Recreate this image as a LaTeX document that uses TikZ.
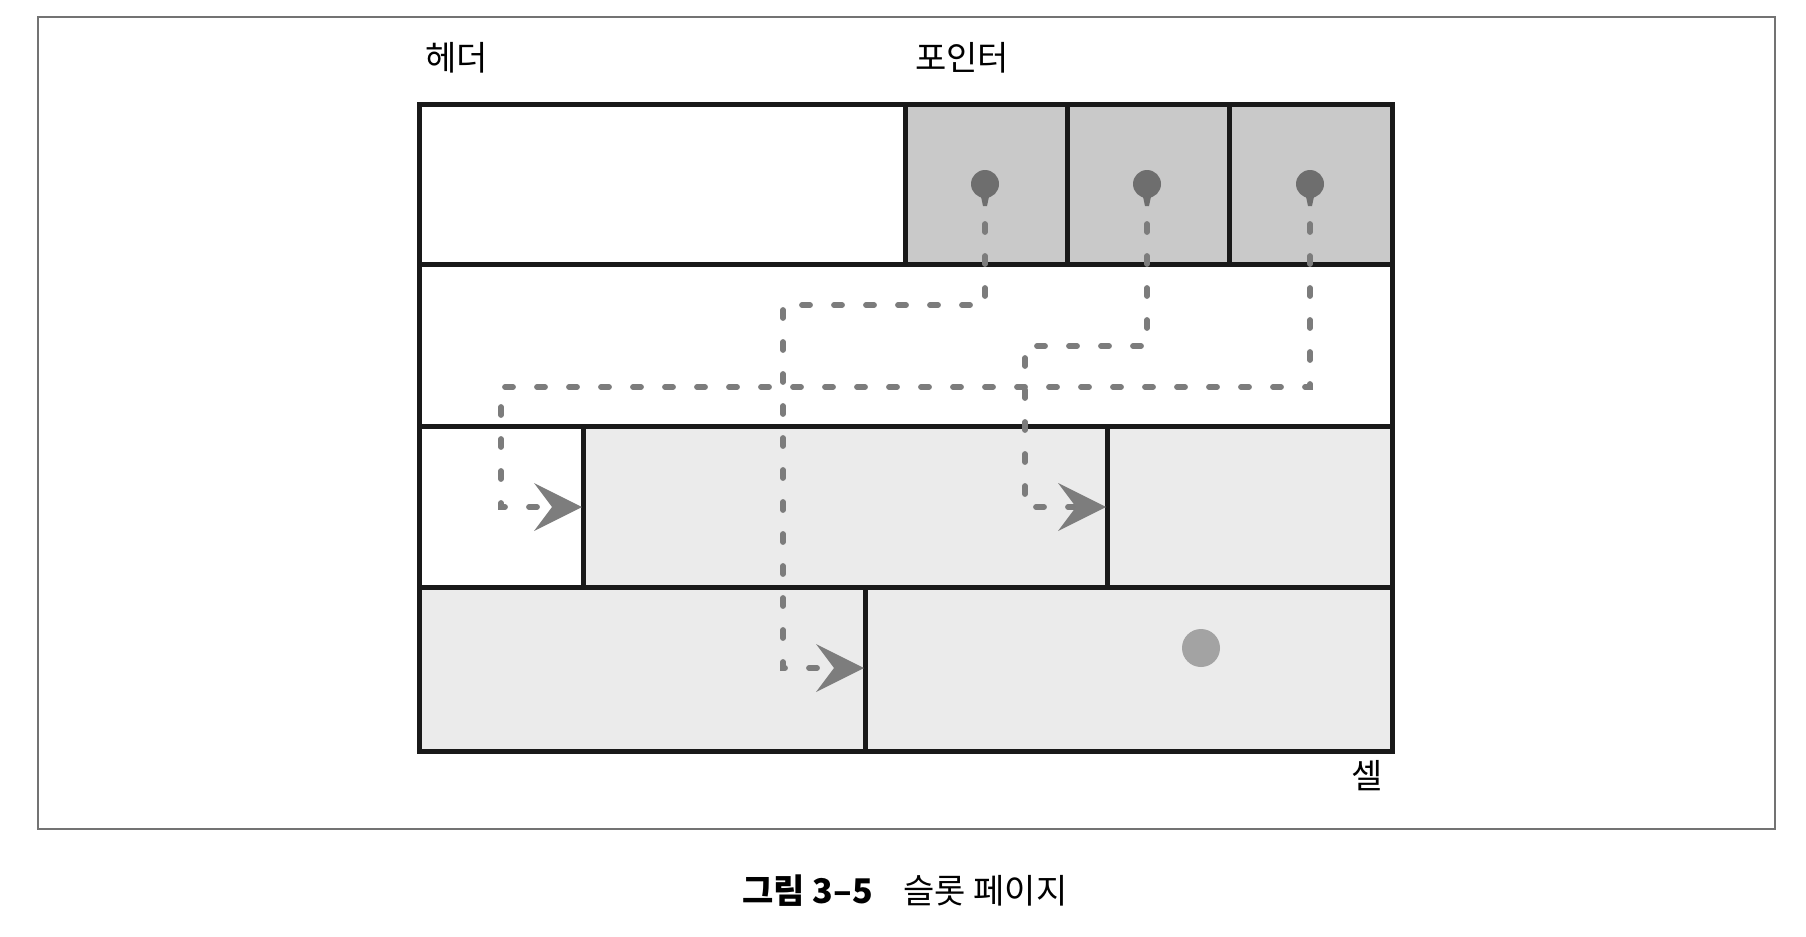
\documentclass[tikz,border=0pt]{standalone}
\usepackage{fontspec}
\setmainfont{Noto Sans CJK KR}
\usetikzlibrary{arrows.meta}
\definecolor{ptrgray}{HTML}{C9C9C9}
\definecolor{cellgray}{HTML}{EBEBEB}
\definecolor{dotgray}{HTML}{6E6E6E}
\definecolor{dashgray}{HTML}{7C7C7C}
\definecolor{bigdot}{HTML}{A3A3A3}
\tikzset{
  cellbox/.style={draw=black!90, line width=2.5pt},
  ptrline/.style={draw=dashgray, line width=2.9pt, line cap=round,
    dash pattern=on 4pt off 12pt,
    -{Stealth[length=24pt,width=24pt,inset=9pt,color=dotgray!90,fill=dotgray!90,line width=0pt,sep=0pt]}},
  lbl/.style={font=\fontsize{17}{20}\selectfont, inner sep=0pt},
}
\begin{document}
\begin{tikzpicture}[x=0.5pt,y=-0.5pt]
\useasboundingbox (0,0) rectangle (1806,937);
% outer frame
\draw[draw=black!55, line width=1pt] (38,17) rectangle (1775,829);
% row 1
\fill[white] (419,104) rectangle (905,264);
\fill[ptrgray] (905,104) rectangle (1392,264);
% row 3
\fill[cellgray] (583,426) rectangle (1392,587);
% row 4
\fill[cellgray] (419,587) rectangle (1392,751);
% grid lines
\draw[cellbox] (419,104) rectangle (1392,751);
\draw[cellbox] (419,264) -- (1392,264);
\draw[cellbox] (419,426) -- (1392,426);
\draw[cellbox] (419,587) -- (1392,587);
\draw[cellbox] (905,104) -- (905,264);
\draw[cellbox] (1067,104) -- (1067,264);
\draw[cellbox] (1229,104) -- (1229,264);
\draw[cellbox] (583,426) -- (583,587);
\draw[cellbox] (1107,426) -- (1107,587);
\draw[cellbox] (865,587) -- (865,751);
% pointer pins
\foreach \n/\x in {p1/985,p2/1147,p3/1310}{
  \fill[dotgray] (\x,184) circle[radius=14];
  \fill[dotgray] (\x-5,192) -- (\x+5,192) -- (\x+2,206) -- (\x-2,206) -- cycle;
  \coordinate (\n) at (\x,224);
}
% targets
\coordinate (t1) at (864,668);
\coordinate (t2) at (1106,507);
\coordinate (t3) at (582,507);
% dashed pointer lines
\draw[ptrline] (p1) -- (985,305) -- (783,305) -- (783,668) -- (t1);
\draw[ptrline] (p2) -- (1147,346) -- (1025,346) -- (1025,507) -- (t2);
\draw[ptrline] (p3) -- (1310,387) -- (501,387) -- (501,507) -- (t3);
% big dot in cell
\fill[bigdot] (1201,648) circle[radius=19];
% labels
\node[lbl, anchor=west] (hdr) at (425,58) {헤더};
\node[lbl, anchor=west] (ptr) at (915,58) {포인터};
\node[lbl, anchor=west] (cell) at (1351,776) {셀};
\node[lbl] (cap) at (905,891) {\textbf{그림 3–5}\hspace{0.9em}슬롯 페이지};
\end{tikzpicture}
\end{document}
